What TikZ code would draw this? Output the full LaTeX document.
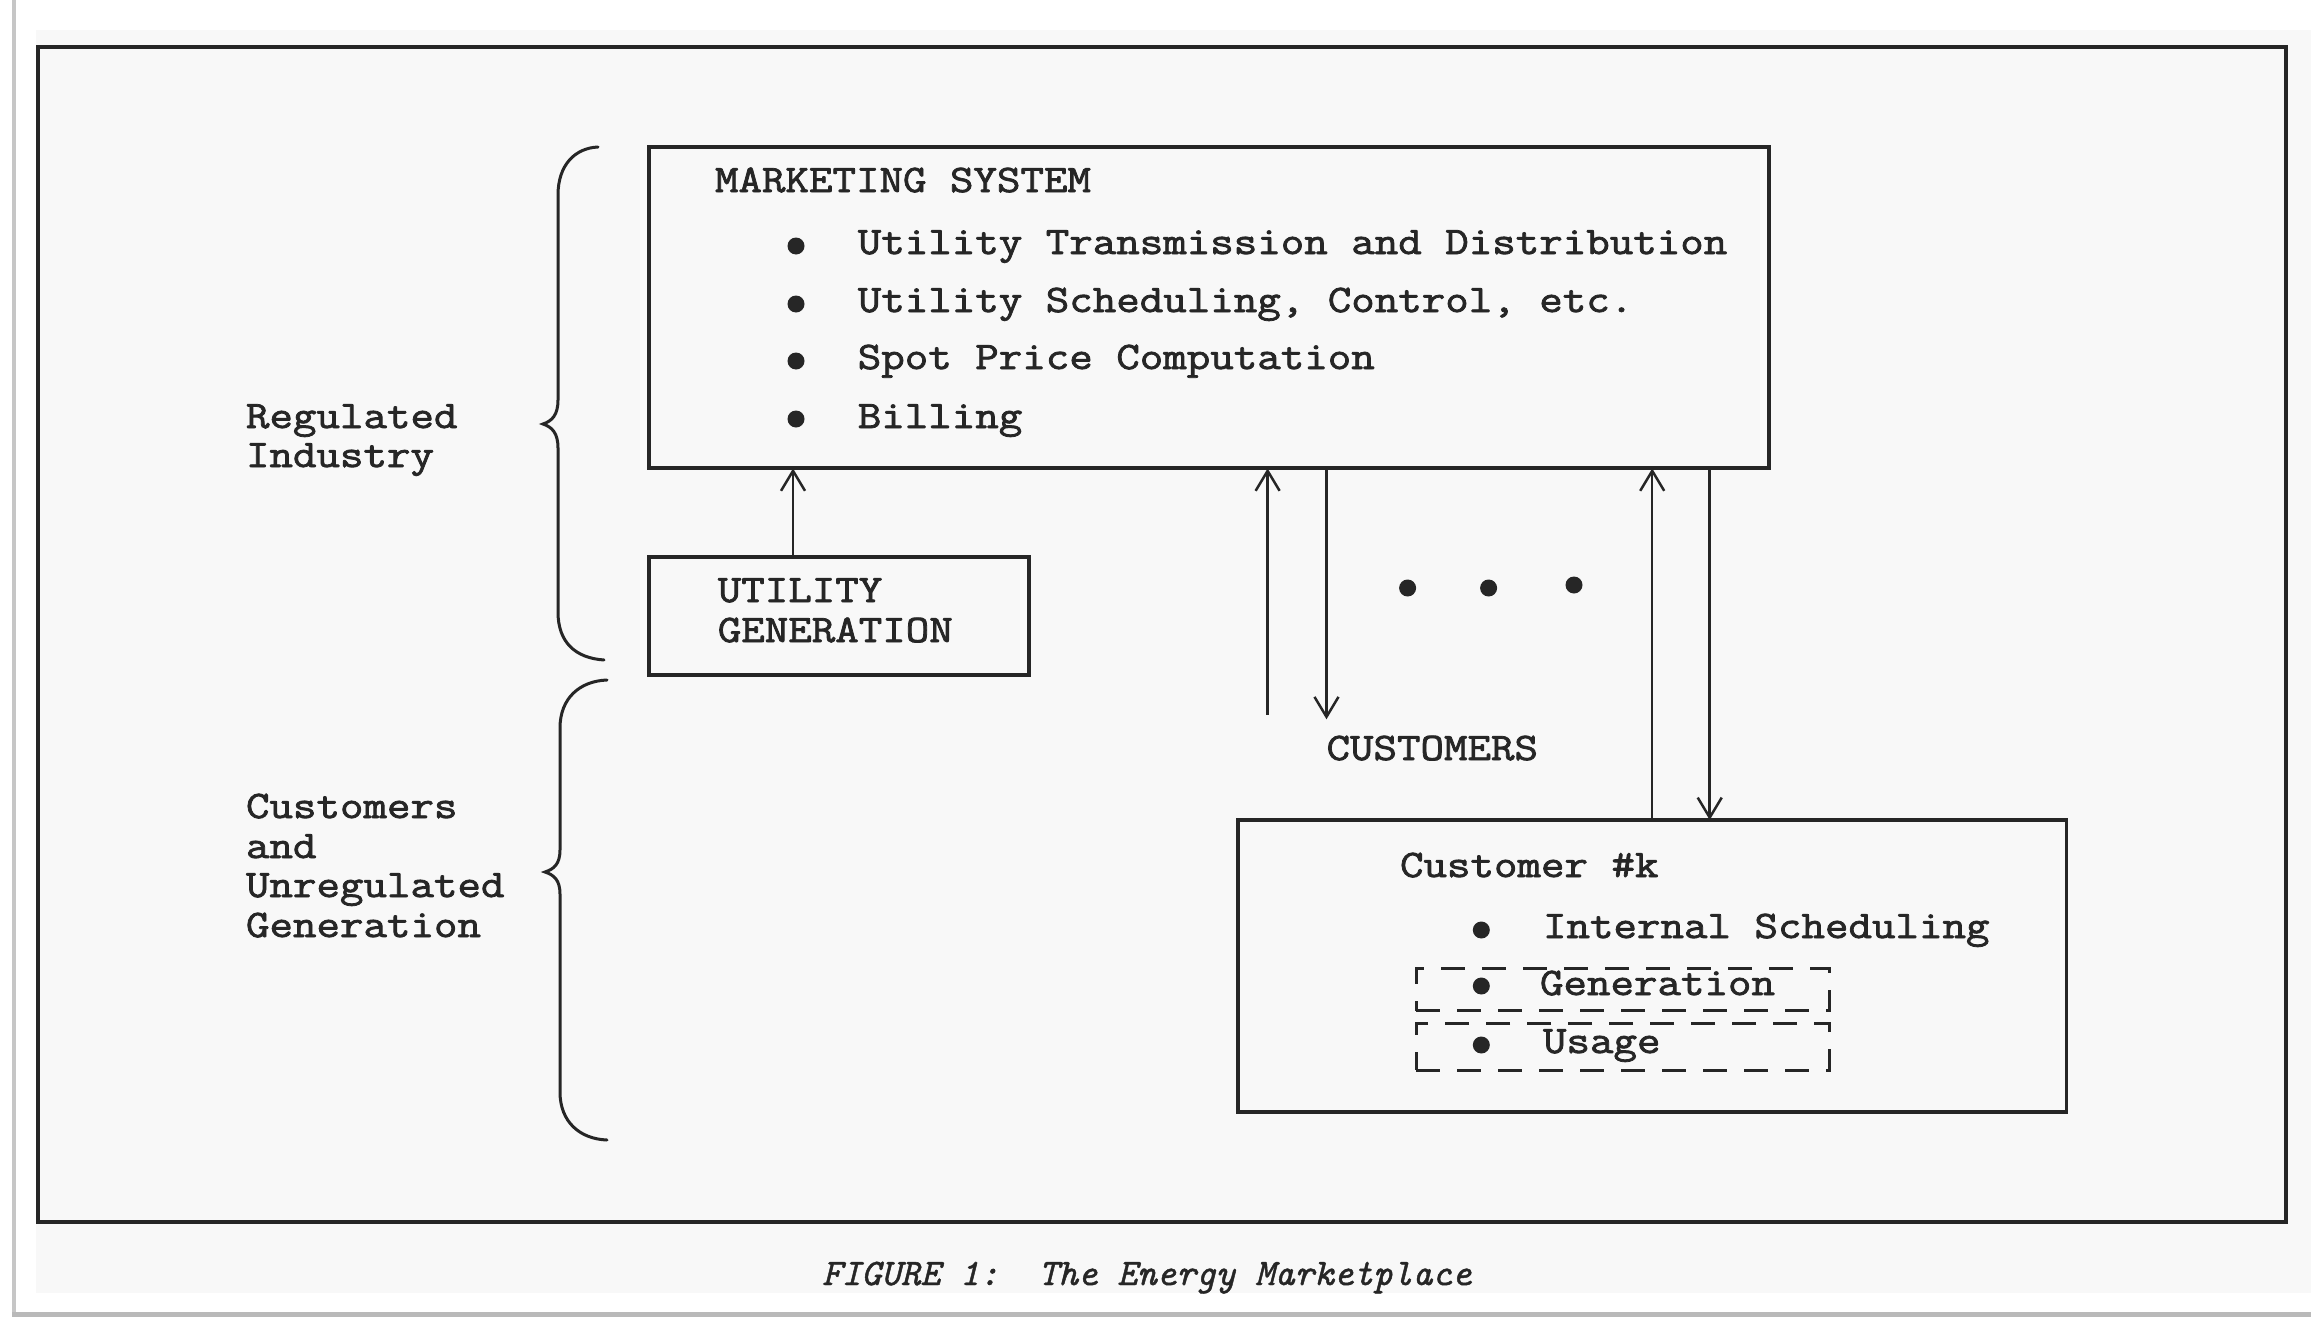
\documentclass[tikz,border=0pt]{standalone}
\usepackage{fontspec}
\newfontfamily\tw{Latin Modern Mono}[FakeStretch=1.17,FakeBold=2]
\newfontfamily\tc{Latin Modern Mono}[FakeBold=1.2]
\usetikzlibrary{arrows.meta,calc}
\definecolor{ink}{HTML}{262626}
\definecolor{paper}{HTML}{F8F8F8}
\begin{document}
\begin{tikzpicture}[x=1pt,y=-1pt,
  every node/.style={inner sep=0pt, outer sep=0pt},
  txt/.style={font=\tw\fontsize{39}{39}\selectfont, text=ink, anchor=base west},
  boxn/.style={draw=ink, line width=4pt, anchor=north west},
  dbox/.style={draw=ink, line width=3pt, dash pattern=on 24pt off 17pt, anchor=north west},
  dotn/.style={circle, fill=ink, minimum size=17pt},
  arr/.style={draw=ink, line width=2.5pt, -{Straight Barb[length=20pt,width=24pt,line width=2.5pt]}},
  brc/.style={draw=ink, line width=3pt, line cap=round}]
\useasboundingbox (0,0) rectangle (2311,1317);
\fill[white] (0,0) rectangle (2311,1317);
\fill[paper] (36,30) rectangle (2311,1293);
\fill[gray!45] (12,0) rectangle (16,1317);
\fill[gray!55] (12,1312) rectangle (2311,1317);

% frame
\node[boxn, line width=4.5pt, minimum width=2248pt, minimum height=1175pt] (frame) at (38,47) {};

% marketing system
\node[boxn, minimum width=1120pt, minimum height=321pt] (ms) at (648.5,147.4) {};
\node[txt] (mst) at (715,192) {MARKETING SYSTEM};
\node[dotn] (b1) at (796,246) {};
\node[dotn] (b2) at (796,304) {};
\node[dotn] (b3) at (796,361) {};
\node[dotn] (b4) at (796,419) {};
\node[txt] (t1) at (857.8,254) {Utility Transmission and Distribution};
\node[txt] (t2) at (857.8,312) {Utility Scheduling, Control, etc.};
\node[txt] (t3) at (857.8,369) {Spot Price Computation};
\node[txt] (t4) at (857.8,428) {Billing};

% utility generation
\node[boxn, minimum width=380.3pt, minimum height=118pt] (ug) at (648.5,557) {};
\node[txt] (ug1) at (717.8,602) {UTILITY};
\node[txt] (ug2) at (717.8,642) {GENERATION};
\draw[arr] ([xshift=144.5pt]ug.north west) -- ([xshift=144.5pt]ug.north west |- ms.south);

% customer links
\coordinate (l1) at (1267.6,714.8);
\coordinate (l2) at (1326.5,719.3);
\coordinate (r1) at (1652.2,0);
\coordinate (r2) at (1709.7,0);
\draw[arr] (l1) -- (l1 |- ms.south);
\draw[arr] (l2 |- ms.south) -- (l2);

\node[dotn] (e1) at (1407.6,588) {};
\node[dotn] (e2) at (1488.6,588) {};
\node[dotn] (e3) at (1574,585) {};
\node[txt] (cus) at (1326.5,760) {CUSTOMERS};

% customer k
\node[boxn, line width=3.5pt, minimum width=828.4pt, minimum height=292pt] (cust) at (1238,820) {};
\draw[arr] (r1 |- cust.north) -- (r1 |- ms.south);
\draw[arr] (r2 |- ms.south) -- (r2 |- cust.north);
\node[txt] (ck) at (1400,877) {Customer \#k};
\node[dotn] (c1) at (1481.3,930) {};
\node[txt] (ct1) at (1543,938) {Internal Scheduling};
\node[dbox, minimum width=413pt, minimum height=42.7pt] (dg) at (1416,968) {};
\node[dbox, minimum width=413pt, minimum height=47pt] (du) at (1416,1023) {};
\node[dotn] (c2) at (1481.3,986) {};
\node[txt] (ct2) at (1540,995) {Generation};
\node[dotn] (c3) at (1481.3,1045) {};
\node[txt] (ct3) at (1543,1053) {Usage};

% braces and labels
\draw[brc] (598,147) .. controls (575,148) and (558,165) .. (558,195) -- (558,400)
  .. controls (558,415) and (552,421) .. (543,424)
  .. controls (552,427) and (558,433) .. (558,448) -- (558,612)
  .. controls (558,642) and (575,658) .. (604,660);
\draw[brc] (607,680) .. controls (580,681) and (560,698) .. (560,728) -- (560,850)
  .. controls (560,864) and (554,869) .. (545,872)
  .. controls (554,875) and (560,880) .. (560,894) -- (560,1092)
  .. controls (560,1122) and (580,1139) .. (607,1140);
\node[txt] (rg1) at (246,428) {Regulated};
\node[txt] (rg2) at (246,467) {Industry};
\node[txt] (cu1) at (246,818) {Customers};
\node[txt] (cu2) at (246,858) {and};
\node[txt] (cu3) at (246,897) {Unregulated};
\node[txt] (cu4) at (246,937) {Generation};

% caption
\node[font=\tc\itshape\fontsize{37.5}{37.5}\selectfont, text=ink, anchor=base west] (cap) at (822,1285) {FIGURE 1:\ \ The Energy Marketplace};
\end{tikzpicture}
\end{document}
